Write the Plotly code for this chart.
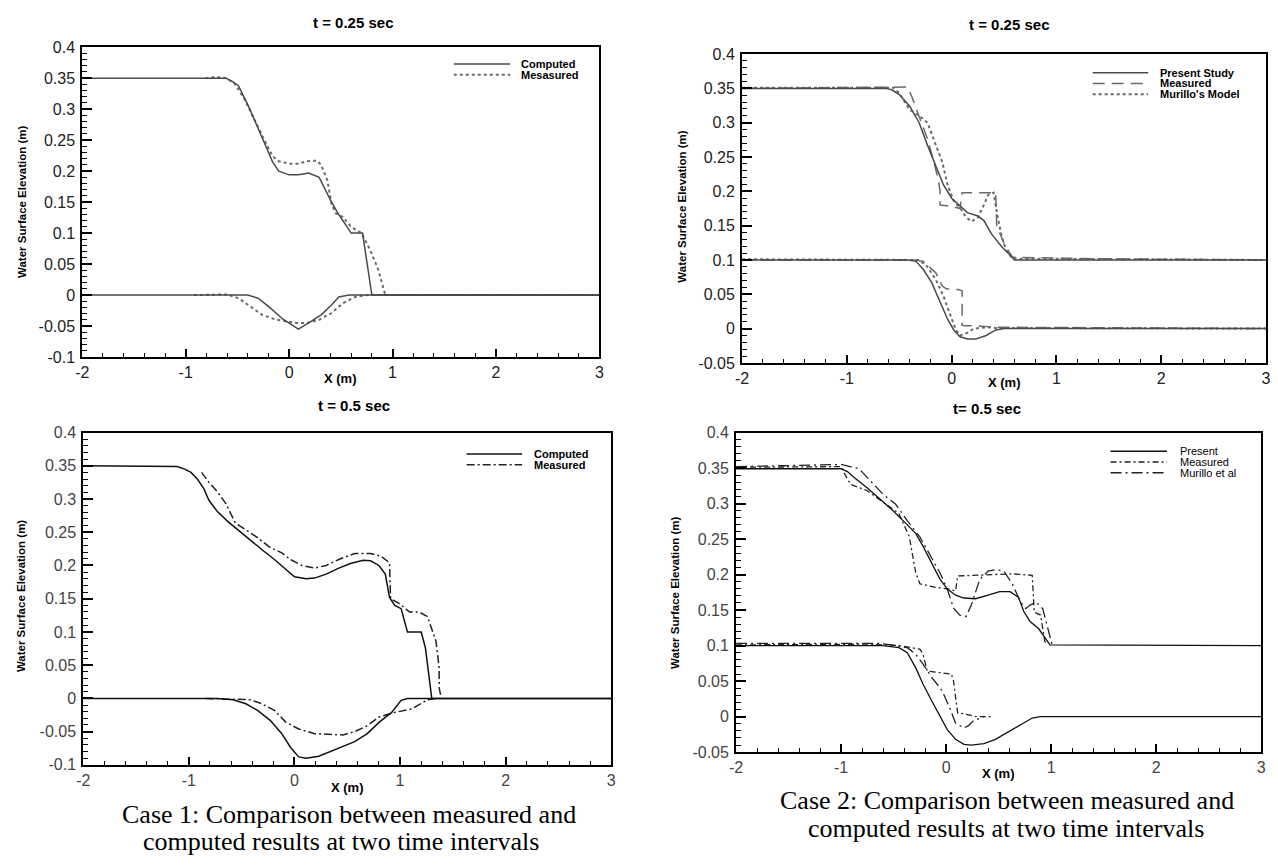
import plotly.graph_objects as go

W, H = 1278, 868

# ---------------- data ----------------
x_ticks = [-2, -1, 0, 1, 2, 3]
x_tick_labels = ["-2", "-1", "0", "1", "2", "3"]
y_ticks_a = [-0.1, -0.05, 0, 0.05, 0.1, 0.15, 0.2, 0.25, 0.3, 0.35, 0.4]
y_tick_labels_a = ["-0.1", "-0.05", "0", "0.05", "0.1", "0.15", "0.2", "0.25", "0.3", "0.35", "0.4"]
y_ticks_b = [-0.05, 0, 0.05, 0.1, 0.15, 0.2, 0.25, 0.3, 0.35, 0.4]
y_tick_labels_b = ["-0.05", "0", "0.05", "0.1", "0.15", "0.2", "0.25", "0.3", "0.35", "0.4"]

# Case 1, t = 0.25 s
c1a_comp_up_x = [-2, -0.61, -0.55, -0.49, -0.38, -0.30, -0.22, -0.16, -0.10, 0.0, 0.09, 0.19, 0.29, 0.35, 0.41, 0.48, 0.60, 0.71, 0.80, 3.0]
c1a_comp_up_y = [0.35, 0.35, 0.345, 0.338, 0.30, 0.27, 0.238, 0.215, 0.20, 0.194, 0.194, 0.197, 0.19, 0.17, 0.15, 0.13, 0.10, 0.10, 0.0, 0.0]
c1a_meas_up_x = [-0.81, -0.71, -0.61, -0.53, -0.43, -0.34, -0.24, -0.16, -0.10, 0.0, 0.09, 0.17, 0.27, 0.31, 0.37, 0.41, 0.45, 0.52, 0.60, 0.70, 0.78, 0.86, 0.93, 3.0]
c1a_meas_up_y = [0.35, 0.352, 0.35, 0.342, 0.316, 0.284, 0.25, 0.224, 0.216, 0.212, 0.212, 0.216, 0.217, 0.21, 0.185, 0.147, 0.132, 0.126, 0.11, 0.10, 0.074, 0.042, 0.0, 0.0]
c1a_comp_lo_x = [-2, -0.40, -0.30, -0.18, -0.06, 0.09, 0.19, 0.31, 0.41, 0.48, 0.58, 3.0]
c1a_comp_lo_y = [0, 0, -0.005, -0.021, -0.039, -0.055, -0.045, -0.032, -0.016, -0.003, 0, 0]
c1a_meas_lo_x = [-0.92, -0.60, -0.49, -0.38, -0.26, -0.14, -0.02, 0.07, 0.17, 0.29, 0.41, 0.52, 0.64, 0.76, 3.0]
c1a_meas_lo_y = [0, 0.001, -0.005, -0.018, -0.032, -0.039, -0.043, -0.045, -0.045, -0.04, -0.029, -0.013, -0.003, 0, 0]

# Case 2, t = 0.25 s
c2a_pres_up_x = [-2, -0.63, -0.57, -0.50, -0.40, -0.31, -0.23, -0.15, -0.08, 0.0, 0.08, 0.15, 0.25, 0.31, 0.38, 0.48, 0.56, 0.60, 3.0]
c2a_pres_up_y = [0.35, 0.35, 0.348, 0.341, 0.324, 0.30, 0.267, 0.238, 0.21, 0.19, 0.179, 0.169, 0.164, 0.157, 0.138, 0.119, 0.107, 0.10, 0.10]
c2a_meas_up_x = [-2, -0.54, -0.42, -0.38, -0.31, -0.23, -0.17, -0.13, -0.11, -0.11, 0.0, 0.08, 0.10, 0.42, 0.43, 0.50, 0.58, 1.27, 3.0]
c2a_meas_up_y = [0.35, 0.352, 0.352, 0.338, 0.31, 0.276, 0.243, 0.219, 0.2, 0.18, 0.178, 0.175, 0.198, 0.198, 0.15, 0.124, 0.104, 0.102, 0.10]
c2a_mur_up_x = [-2, -0.55, -0.50, -0.40, -0.31, -0.23, -0.15, -0.09, -0.04, 0.02, 0.08, 0.14, 0.19, 0.25, 0.31, 0.35, 0.40, 0.44, 0.48, 0.52, 0.58, 3.0]
c2a_mur_up_y = [0.351, 0.351, 0.343, 0.319, 0.31, 0.30, 0.267, 0.243, 0.21, 0.186, 0.176, 0.162, 0.156, 0.162, 0.181, 0.195, 0.198, 0.162, 0.133, 0.114, 0.102, 0.10]
c2a_pres_lo_x = [-2, -0.42, -0.34, -0.27, -0.19, -0.11, -0.04, 0.02, 0.08, 0.15, 0.23, 0.33, 0.42, 0.50, 3.0]
c2a_pres_lo_y = [0.1, 0.1, 0.098, 0.086, 0.067, 0.038, 0.014, -0.002, -0.012, -0.015, -0.015, -0.01, -0.002, 0, 0]
c2a_meas_lo_x = [-2, -0.35, -0.27, -0.15, -0.09, -0.05, 0.06, 0.10, 0.10, 0.12, 0.23, 0.42, 3.0]
c2a_meas_lo_y = [0.1, 0.1, 0.098, 0.081, 0.062, 0.058, 0.057, 0.055, 0.005, 0.004, 0.004, 0.002, 0.0]
c2a_mur_lo_x = [-2, -0.31, -0.23, -0.15, -0.08, -0.02, 0.04, 0.08, 0.14, 0.21, 0.35, 0.42, 3.0]
c2a_mur_lo_y = [0.101, 0.1, 0.09, 0.071, 0.048, 0.024, -0.002, -0.01, -0.007, 0.0, 0.002, 0.001, 0.0]

# Case 1, t = 0.5 s
c1b_comp_up_x = [-2, -1.20, -1.11, -1.04, -0.98, -0.92, -0.86, -0.81, -0.73, -0.63, -0.54, -0.42, -0.31, -0.19, -0.10, 0.0, 0.11, 0.19, 0.30, 0.42, 0.53, 0.65, 0.72, 0.80, 0.86, 0.90, 0.95, 1.01, 1.07, 1.20, 1.24, 1.30, 3.0]
c1b_comp_up_y = [0.35, 0.35, 0.349, 0.345, 0.34, 0.33, 0.316, 0.298, 0.281, 0.266, 0.254, 0.239, 0.224, 0.209, 0.197, 0.183, 0.18, 0.181, 0.187, 0.196, 0.203, 0.208, 0.207, 0.2, 0.187, 0.152, 0.14, 0.135, 0.1, 0.1, 0.076, 0.0, 0.0]
c1b_meas_up_x = [-0.88, -0.81, -0.73, -0.65, -0.56, -0.46, -0.35, -0.23, -0.12, -0.04, 0.07, 0.19, 0.30, 0.42, 0.57, 0.72, 0.82, 0.90, 0.91, 0.99, 1.09, 1.18, 1.26, 1.34, 1.37, 1.37, 1.39]
c1b_meas_up_y = [0.34, 0.325, 0.311, 0.293, 0.264, 0.254, 0.242, 0.227, 0.219, 0.209, 0.2, 0.196, 0.2, 0.209, 0.218, 0.218, 0.214, 0.204, 0.15, 0.143, 0.13, 0.13, 0.123, 0.086, 0.046, 0.016, 0.0]
c1b_comp_lo_x = [-2, -0.73, -0.58, -0.46, -0.35, -0.23, -0.12, -0.04, 0.04, 0.11, 0.23, 0.34, 0.46, 0.57, 0.69, 0.80, 0.92, 1.01, 1.07, 3.0]
c1b_comp_lo_y = [0, 0, -0.002, -0.008, -0.018, -0.033, -0.053, -0.073, -0.088, -0.09, -0.087, -0.08, -0.073, -0.065, -0.053, -0.036, -0.021, -0.003, 0, 0]
c1b_meas_lo_x = [-0.84, -0.58, -0.42, -0.31, -0.19, -0.08, 0.04, 0.19, 0.34, 0.46, 0.57, 0.69, 0.80, 0.95, 1.11, 1.26, 1.34]
c1b_meas_lo_y = [0, -0.001, -0.002, -0.008, -0.018, -0.036, -0.046, -0.053, -0.054, -0.055, -0.05, -0.041, -0.028, -0.021, -0.016, -0.002, 0]

# Case 2, t = 0.5 s
c2b_pres_up_x = [-2, -1.0, -0.94, -0.87, -0.75, -0.64, -0.52, -0.41, -0.29, -0.22, -0.14, -0.06, 0.01, 0.09, 0.17, 0.28, 0.40, 0.51, 0.61, 0.69, 0.74, 0.80, 0.88, 0.94, 0.99, 3.0]
c2b_pres_up_y = [0.349, 0.349, 0.345, 0.336, 0.322, 0.308, 0.292, 0.276, 0.258, 0.24, 0.217, 0.194, 0.18, 0.171, 0.167, 0.166, 0.171, 0.176, 0.176, 0.168, 0.148, 0.134, 0.124, 0.112, 0.101, 0.1]
c2b_meas_up_x = [-2, -1.0, -0.96, -0.91, -0.75, -0.60, -0.45, -0.35, -0.29, -0.25, -0.10, 0.01, 0.09, 0.11, 0.28, 0.47, 0.63, 0.82, 0.84, 0.90, 0.94, 0.96]
c2b_meas_up_y = [0.351, 0.352, 0.34, 0.327, 0.318, 0.302, 0.286, 0.253, 0.203, 0.187, 0.182, 0.18, 0.177, 0.198, 0.199, 0.201, 0.201, 0.199, 0.147, 0.143, 0.106, 0.101]
c2b_mur_up_x = [-2, -1.5, -1.0, -0.83, -0.71, -0.60, -0.48, -0.37, -0.25, -0.16, -0.06, 0.01, 0.07, 0.13, 0.19, 0.24, 0.32, 0.40, 0.47, 0.55, 0.63, 0.71, 0.76, 0.80, 0.86, 0.92, 0.97, 1.01]
c2b_mur_up_y = [0.352, 0.353, 0.355, 0.349, 0.331, 0.313, 0.299, 0.276, 0.253, 0.23, 0.203, 0.18, 0.153, 0.143, 0.141, 0.157, 0.193, 0.205, 0.207, 0.205, 0.187, 0.161, 0.152, 0.157, 0.161, 0.152, 0.124, 0.101]
c2b_pres_lo_x = [-2, -0.6, -0.45, -0.37, -0.29, -0.22, -0.14, -0.06, 0.01, 0.09, 0.17, 0.24, 0.36, 0.47, 0.59, 0.71, 0.82, 0.90, 3.0]
c2b_pres_lo_y = [0.1, 0.1, 0.097, 0.09, 0.069, 0.046, 0.023, 0.0, -0.018, -0.032, -0.039, -0.04, -0.038, -0.032, -0.022, -0.011, -0.002, 0, 0]
c2b_meas_lo_x = [-2, -0.75, -0.45, -0.37, -0.25, -0.22, -0.18, -0.06, 0.05, 0.07, 0.11, 0.17, 0.28, 0.44]
c2b_meas_lo_y = [0.101, 0.102, 0.1, 0.098, 0.095, 0.088, 0.064, 0.062, 0.06, 0.051, 0.005, 0.004, 0.0, 0.0]
c2b_mur_lo_x = [-2, -0.64, -0.52, -0.37, -0.29, -0.22, -0.14, -0.04, 0.03, 0.09, 0.17, 0.21, 0.26, 0.36]
c2b_mur_lo_y = [0.103, 0.103, 0.101, 0.097, 0.088, 0.074, 0.056, 0.037, 0.014, -0.009, -0.016, -0.013, -0.006, 0.0]

# ---------------- layout helpers ----------------
def px(x):
    return x / W

def py(y):
    return 1 - y / H

# panel boxes in pixels: (left, right, top, bottom)
boxes = {
    1: (76, 598, 40, 356),
    2: (742, 1271, 47, 362),
    3: (77, 610, 433, 772),
    4: (736, 1266, 433, 759),
}

SANS = "Liberation Sans, Arial, sans-serif"
SERIF = "Liberation Serif, Times New Roman, serif"

fig = go.Figure()

def add(xs, ys, n, color, dash, width=1.5):
    suffix = "" if n == 1 else str(n)
    fig.add_trace(go.Scatter(x=xs, y=ys, mode="lines", xaxis="x" + suffix, yaxis="y" + suffix,
                             line=dict(color=color, dash=dash, width=width),
                             showlegend=False, hoverinfo="skip"))

# panel 1
G1 = "#4a4a4a"; G2 = "#6a6a6a"
add(c1a_meas_up_x, c1a_meas_up_y, 1, G2, "dot", 2)
add(c1a_meas_lo_x, c1a_meas_lo_y, 1, G2, "dot", 2)
add(c1a_comp_up_x, c1a_comp_up_y, 1, G1, "solid", 1.5)
add(c1a_comp_lo_x, c1a_comp_lo_y, 1, G1, "solid", 1.5)
# panel 2
D2 = "12px,7px"
add(c2a_mur_up_x, c2a_mur_up_y, 2, G2, "dot", 2)
add(c2a_mur_lo_x, c2a_mur_lo_y, 2, G2, "dot", 2)
add(c2a_meas_up_x, c2a_meas_up_y, 2, G2, D2, 1.5)
add(c2a_meas_lo_x, c2a_meas_lo_y, 2, G2, D2, 1.5)
add(c2a_pres_up_x, c2a_pres_up_y, 2, G1, "solid", 1.5)
add(c2a_pres_lo_x, c2a_pres_lo_y, 2, G1, "solid", 1.5)
# panel 3
DD3 = "8px,3px,2px,3px"
add(c1b_meas_up_x, c1b_meas_up_y, 3, "#222222", DD3, 1.5)
add(c1b_meas_lo_x, c1b_meas_lo_y, 3, "#222222", DD3, 1.5)
add(c1b_comp_up_x, c1b_comp_up_y, 3, "#111111", "solid", 1.5)
add(c1b_comp_lo_x, c1b_comp_lo_y, 3, "#111111", "solid", 1.5)
# panel 4
DM4 = "6px,3px,2px,3px"
DR4 = "11px,4px,2px,4px"
add(c2b_mur_up_x, c2b_mur_up_y, 4, "#222222", DR4, 1.3)
add(c2b_mur_lo_x, c2b_mur_lo_y, 4, "#222222", DR4, 1.3)
add(c2b_meas_up_x, c2b_meas_up_y, 4, "#222222", DM4, 1.3)
add(c2b_meas_lo_x, c2b_meas_lo_y, 4, "#222222", DM4, 1.3)
add(c2b_pres_up_x, c2b_pres_up_y, 4, "#111111", "solid", 1.3)
add(c2b_pres_lo_x, c2b_pres_lo_y, 4, "#111111", "solid", 1.3)

layout = dict(width=W, height=H, autosize=False, margin=dict(l=0, r=0, t=0, b=0),
              paper_bgcolor="white", plot_bgcolor="white", showlegend=False)

for n, (l, r, t, b) in boxes.items():
    suffix = "" if n == 1 else str(n)
    tick_col = "#222222" if n in (1, 2) else "#444444"
    if n in (1, 3):
        yr, yt, ytl = [-0.1, 0.4], y_ticks_a, y_tick_labels_a
    else:
        yr, yt, ytl = [-0.05, 0.4], y_ticks_b, y_tick_labels_b
    layout["xaxis" + suffix] = dict(
        domain=[px(l), px(r)], anchor="y" + suffix, range=[-2, 3],
        tickmode="array", tickvals=x_ticks, ticktext=x_tick_labels,
        ticks="inside", ticklen=8, tickwidth=2, tickcolor="black",
        minor=dict(tickmode="linear", tick0=0, dtick=0.2, ticks="inside", ticklen=4, tickwidth=1, tickcolor="black", showgrid=False),
        showline=True, mirror=True, linewidth=2, linecolor="black",
        showgrid=False, zeroline=False,
        tickfont=dict(family=SANS, size=16, color=tick_col))
    layout["yaxis" + suffix] = dict(
        domain=[py(b), py(t)], anchor="x" + suffix, range=yr,
        tickmode="array", tickvals=yt, ticktext=ytl,
        ticks="inside", ticklen=10, tickwidth=2, tickcolor="black",
        minor=dict(tickmode="linear", tick0=0, dtick=0.01, ticks="inside", ticklen=5, tickwidth=1, tickcolor="black", showgrid=False),
        showline=True, mirror=True, linewidth=2, linecolor="black",
        showgrid=False, zeroline=False, ticklabelstandoff=2,
        tickfont=dict(family=SANS, size=16, color=tick_col))

annotations = []
shapes = []

def txt(x, y, s, size, bold=False, family=SANS, xanchor="center", angle=0, color="black"):
    annotations.append(dict(x=px(x), y=py(y), xref="paper", yref="paper", text=("<b>%s</b>" % s) if bold else s,
                            showarrow=False, xanchor=xanchor, yanchor="middle", textangle=angle,
                            font=dict(family=family, size=size, color=color)))

# titles
txt(349, 15, "t = 0.25 sec", 15, True)
txt(1011, 17, "t = 0.25 sec", 15, True)
txt(350, 405, "t = 0.5 sec", 15, True)
txt(989, 409, "t= 0.5 sec", 15, True)
# x axis titles
txt(337, 378, "X (m)", 13, True)
txt(1007, 382, "X (m)", 13, True)
txt(344, 795, "X (m)", 13, True)
txt(1001, 781, "X (m)", 13, True)
# y axis titles
YT = "Water Surface Elevation (m)"
txt(15, 198, YT, 11.5, True, angle=-90)
txt(681, 203, YT, 11.5, True, angle=-90)
txt(14, 600, YT, 11.5, True, angle=-90)
txt(675, 597, YT, 11.5, True, angle=-90)
# captions
txt(345, 823, "Case 1: Comparison between measured and", 26, family=SERIF)
txt(337, 850, "computed results at two time intervals", 26, family=SERIF)
txt(1009, 808, "Case 2: Comparison between measured and", 26, family=SERIF)
txt(1008, 837, "computed results at two time intervals", 26, family=SERIF)

# legends
def leg(x0, x1, y, dash, color, label, tx, bold=True, width=1.5):
    shapes.append(dict(type="line", xref="paper", yref="paper", x0=px(x0), x1=px(x1), y0=py(y), y1=py(y),
                       line=dict(color=color, dash=dash, width=width)))
    txt(tx, y, label, 11, bold, xanchor="left")

leg(451, 508, 57, "solid", G1, "Computed", 517)
leg(451, 508, 68, "dot", G2, "Mesasured", 517, width=2)
leg(1096, 1152, 66, "solid", G1, "Present Study", 1162)
leg(1096, 1152, 77, D2, G2, "Measured", 1162)
leg(1096, 1152, 88, "dot", G2, "Murillo's Model", 1162, width=2)
leg(464, 520, 455, "solid", "#111111", "Computed", 530)
leg(464, 520, 466, DD3, "#222222", "Measured", 530)
leg(1114, 1171, 452, "solid", "#111111", "Present", 1182, bold=False)
leg(1114, 1171, 463, DM4, "#222222", "Measured", 1182, bold=False)
leg(1114, 1171, 474, DR4, "#222222", "Murillo et al", 1182, bold=False)

layout["annotations"] = annotations
layout["shapes"] = shapes
fig.update_layout(**layout)
fig.write_html("out.html", config={"displayModeBar": False},
               post_script="document.body.style.margin='0px';document.body.style.overflow='hidden';")
